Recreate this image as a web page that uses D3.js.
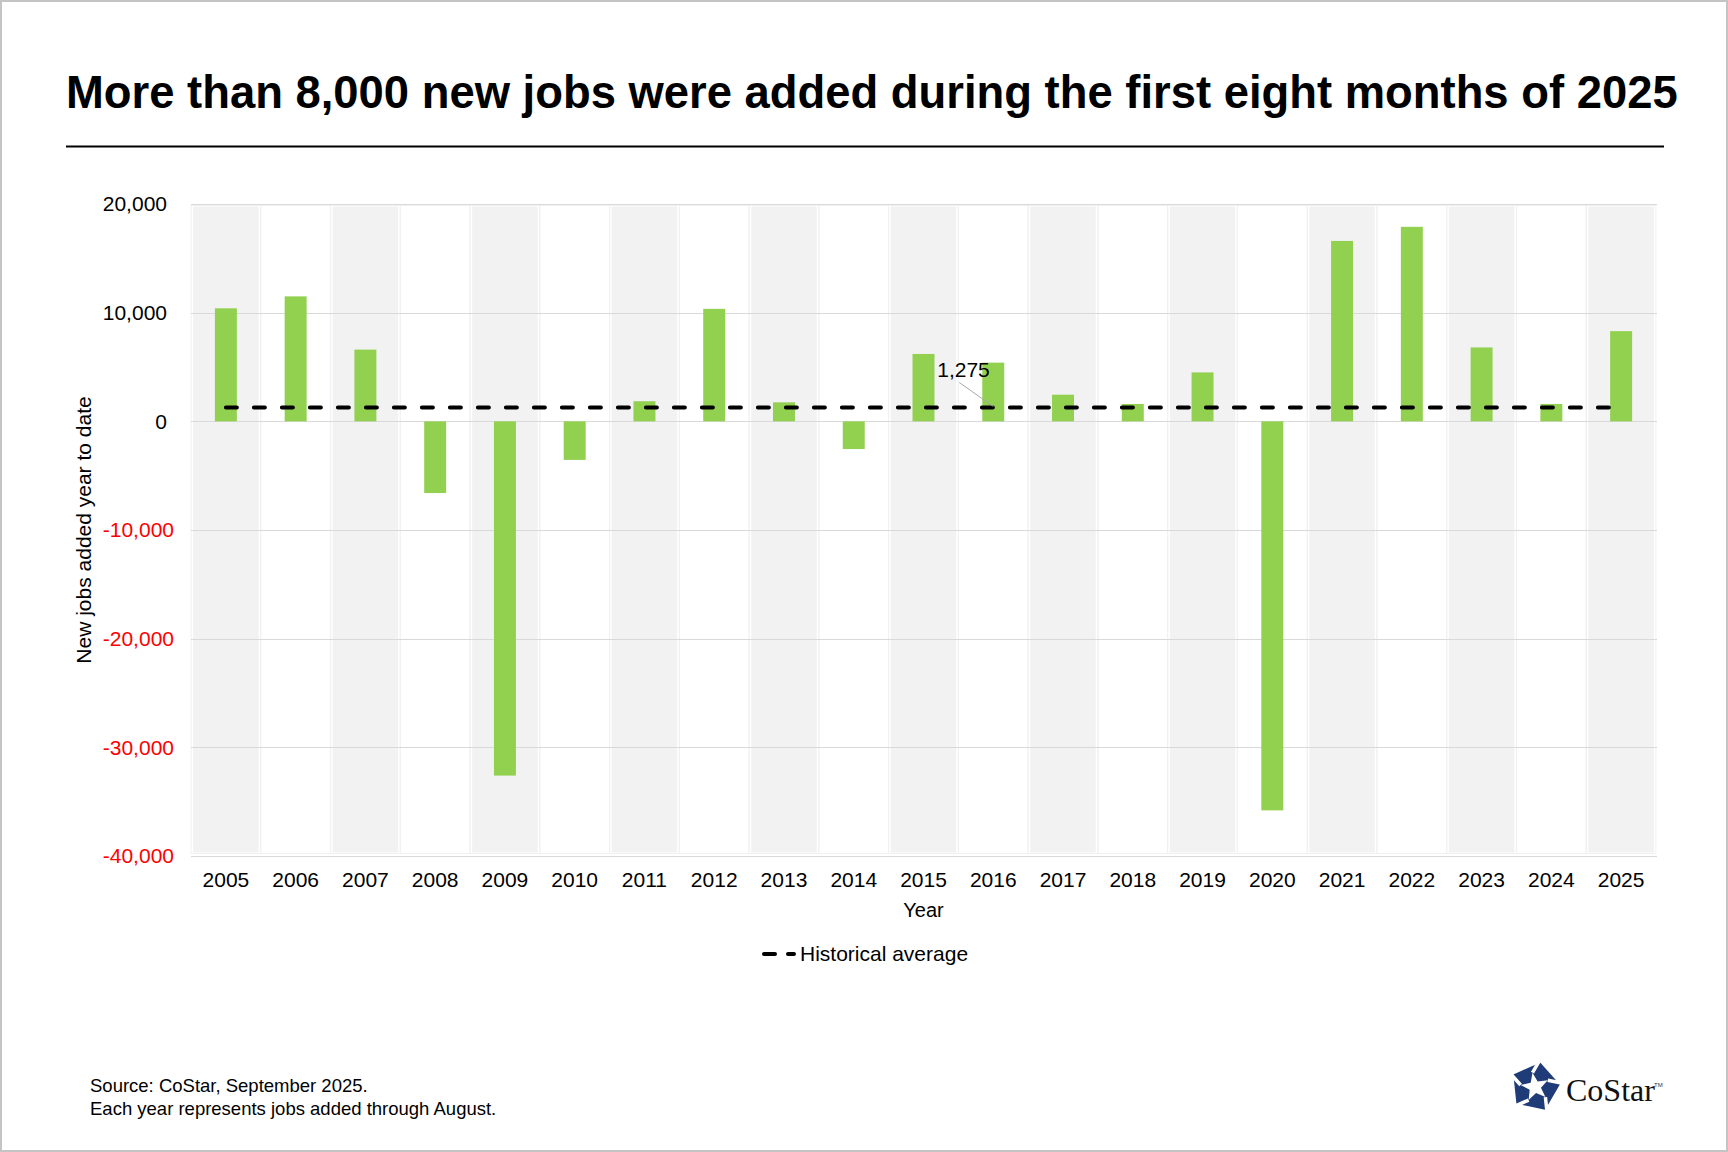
<!DOCTYPE html>
<html>
<head>
<meta charset="utf-8">
<script src="https://cdn.jsdelivr.net/npm/d3@7"></script>
<style>
  html, body { margin: 0; padding: 0; background: #fff; }
  svg { display: block; }
</style>
</head>
<body>
<svg id="chart" width="1728" height="1152" font-family='"Liberation Sans", Arial, sans-serif'></svg>
<script>
(function() {

  // data (jobs added Jan-Aug of each year)
  const years = ['2005', '2006', '2007', '2008', '2009', '2010', '2011', '2012', '2013', '2014',
    '2015', '2016', '2017', '2018', '2019', '2020', '2021', '2022', '2023', '2024', '2025'];
  const jobsAdded = [10400, 11500, 6600, -6600, -32600, -3550, 1850, 10350, 1750, -2550,
    6200, 5400, 2450, 1600, 4500, -35800, 16600, 17900, 6800, 1600, 8300];
  const historicalAverage = 1275;
  const yTicks = [20000, 10000, 0, -10000, -20000, -30000, -40000];
  const yDomain = [-40000, 20000];

  const width = 1728;
  const height = 1152;
  const plot = { left: 191, right: 1656, top: 204, bottom: 856 };

  const fmt = d3.formatLocale({ decimal: '.', thousands: ',', grouping: [3], currency: ['$', ''], minus: '-' }).format(',');

  const svg = d3.select('#chart');

  svg.append('rect')
    .attr('x', 1).attr('y', 1)
    .attr('width', width - 2).attr('height', height - 2)
    .attr('fill', '#fff')
    .attr('stroke', '#c4c4c4')
    .attr('stroke-width', 2);

  // title + rule
  svg.append('text')
    .attr('x', 66).attr('y', 108)
    .attr('font-size', 45.4).attr('font-weight', 'bold')
    .attr('fill', '#000')
    .text('More than 8,000 new jobs were added during the first eight months of 2025');

  svg.append('line')
    .attr('x1', 66).attr('x2', 1664)
    .attr('y1', 146.5).attr('y2', 146.5)
    .attr('stroke', '#000').attr('stroke-width', 2);

  const x = d3.scaleBand().domain(years).range([plot.left, plot.right]).padding(0);
  const y = d3.scaleLinear().domain(yDomain).range([plot.bottom, plot.top]);
  const step = x.step();
  const cx = d => x(d) + step / 2;

  // alternating background columns
  const bandW = 65.5;
  const bands = svg.append('g');
  bands.selectAll('rect.edge')
    .data(years)
    .join('rect')
    .attr('class', 'edge')
    .attr('x', d => cx(d) - bandW / 2 - 2)
    .attr('width', bandW + 4)
    .attr('y', y(yDomain[1]) + 1.5)
    .attr('height', y(yDomain[0]) - y(yDomain[1]) - 4)
    .attr('fill', 'none')
    .attr('stroke', '#f1f1f1')
    .attr('stroke-width', 1);
  bands.selectAll('rect.fill')
    .data(years.filter((d, i) => i % 2 === 0))
    .join('rect')
    .attr('class', 'fill')
    .attr('x', d => cx(d) - bandW / 2)
    .attr('width', bandW)
    .attr('y', y(yDomain[1]) + 2.5)
    .attr('height', y(yDomain[0]) - y(yDomain[1]) - 6)
    .attr('fill', '#f2f2f2');

  // gridlines
  svg.append('g')
    .selectAll('line')
    .data(yTicks)
    .join('line')
    .attr('x1', plot.left).attr('x2', plot.right + 1)
    .attr('y1', d => Math.round(y(d)) + 0.5)
    .attr('y2', d => Math.round(y(d)) + 0.5)
    .attr('stroke', '#d9d9d9')
    .attr('stroke-width', 1);

  // y axis labels (negatives sit a little further right, as in the source)
  const yAxis = svg.append('g')
    .attr('transform', `translate(${plot.left - 24},0)`)
    .call(d3.axisLeft(y).tickValues(yTicks).tickSize(0).tickPadding(0).tickFormat(fmt));
  yAxis.select('.domain').remove();
  yAxis.selectAll('text')
    .attr('font-size', 21)
    .attr('font-family', null)
    .attr('x', d => d < 0 ? 7 : 0)
    .attr('fill', d => d < 0 ? '#ff0000' : '#000');

  // x axis labels
  const xAxis = svg.append('g')
    .attr('transform', `translate(0,${plot.bottom})`)
    .call(d3.axisBottom(x).tickSize(0).tickPadding(0));
  xAxis.select('.domain').remove();
  xAxis.selectAll('text')
    .attr('font-size', 21)
    .attr('font-family', null)
    .attr('fill', '#000')
    .attr('dy', null)
    .attr('y', 31);

  // bars
  const barW = step * 0.315;
  svg.append('g')
    .selectAll('rect')
    .data(years.map((d, i) => ({ year: d, value: jobsAdded[i] })))
    .join('rect')
    .attr('x', d => cx(d.year) - barW / 2)
    .attr('width', barW)
    .attr('y', d => y(Math.max(0, d.value)))
    .attr('height', d => Math.abs(y(d.value) - y(0)))
    .attr('fill', '#92d050');

  // historical average
  svg.append('line')
    .attr('x1', cx(years[0])).attr('x2', cx(years[years.length - 1]))
    .attr('y1', y(historicalAverage)).attr('y2', y(historicalAverage))
    .attr('stroke', '#000')
    .attr('stroke-width', 4)
    .attr('stroke-linecap', 'round')
    .attr('stroke-dasharray', '11,17');

  // data label for the average
  const lx = cx('2016');
  const ly = y(historicalAverage);
  svg.append('line')
    .attr('x1', lx - 34).attr('y1', ly - 25)
    .attr('x2', lx).attr('y2', ly - 1)
    .attr('stroke', '#a6a6a6').attr('stroke-width', 1);
  svg.append('text')
    .attr('x', lx - 56).attr('y', ly - 30)
    .attr('font-size', 21)
    .attr('fill', '#000')
    .text(fmt(historicalAverage));

  // axis titles
  svg.append('text')
    .attr('x', (plot.left + plot.right) / 2).attr('y', 917)
    .attr('text-anchor', 'middle')
    .attr('font-size', 20)
    .text('Year');

  svg.append('text')
    .attr('transform', `translate(91,${(plot.top + plot.bottom) / 2}) rotate(-90)`)
    .attr('text-anchor', 'middle')
    .attr('font-size', 21)
    .text('New jobs added year to date');

  // legend
  svg.append('line')
    .attr('x1', 764).attr('x2', 794)
    .attr('y1', 954).attr('y2', 954)
    .attr('stroke', '#000')
    .attr('stroke-width', 4)
    .attr('stroke-linecap', 'round')
    .attr('stroke-dasharray', '11,13');
  svg.append('text')
    .attr('x', 800).attr('y', 961)
    .attr('font-size', 21)
    .text('Historical average');

  // footer notes
  const notes = svg.append('text')
    .attr('x', 90).attr('y', 1092)
    .attr('font-size', 18.5)
    .attr('fill', '#000');
  notes.append('tspan').attr('x', 90).text('Source: CoStar, September 2025.');
  notes.append('tspan').attr('x', 90).attr('dy', 23).text('Each year represents jobs added through August.');

  // CoStar logo
  const logo = svg.append('g').attr('transform', 'translate(1535,1087)');
  const R = 25;
  const pent = d3.range(5).map(i => {
    const a = (-90 + 12 + i * 72) * Math.PI / 180;
    return [R * Math.cos(a), R * Math.sin(a)];
  });
  logo.append('polygon')
    .attr('points', pent.map(p => p.join(',')).join(' '))
    .attr('fill', '#1f3b78');
  const star = d3.range(10).map(i => {
    const r = i % 2 === 0 ? R * 0.58 : R * 0.24;
    const a = (-90 + 12 + 36 + 14 + i * 36) * Math.PI / 180;
    return [r * Math.cos(a), r * Math.sin(a)];
  });
  logo.append('polygon')
    .attr('points', star.map(p => p.join(',')).join(' '))
    .attr('fill', '#fff');
  // pinwheel cuts from each star point out to the rim
  logo.selectAll('line.cut')
    .data(d3.range(5))
    .join('line')
    .attr('class', 'cut')
    .attr('x1', i => star[i * 2][0]).attr('y1', i => star[i * 2][1])
    .attr('x2', i => {
      const a = (-90 + 12 + 36 + 14 + i * 72 + 40) * Math.PI / 180;
      return star[i * 2][0] + R * 0.7 * Math.cos(a);
    })
    .attr('y2', i => {
      const a = (-90 + 12 + 36 + 14 + i * 72 + 40) * Math.PI / 180;
      return star[i * 2][1] + R * 0.7 * Math.sin(a);
    })
    .attr('stroke', '#fff')
    .attr('stroke-width', 3.5);

  svg.append('text')
    .attr('x', 1566).attr('y', 1101)
    .attr('font-family', '"Liberation Serif", "Times New Roman", serif')
    .attr('font-size', 32)
    .attr('fill', '#111')
    .text('CoStar');
  svg.append('text')
    .attr('x', 1654).attr('y', 1087)
    .attr('font-size', 6)
    .attr('fill', '#333')
    .text('TM');

})();
</script>
</body>
</html>
